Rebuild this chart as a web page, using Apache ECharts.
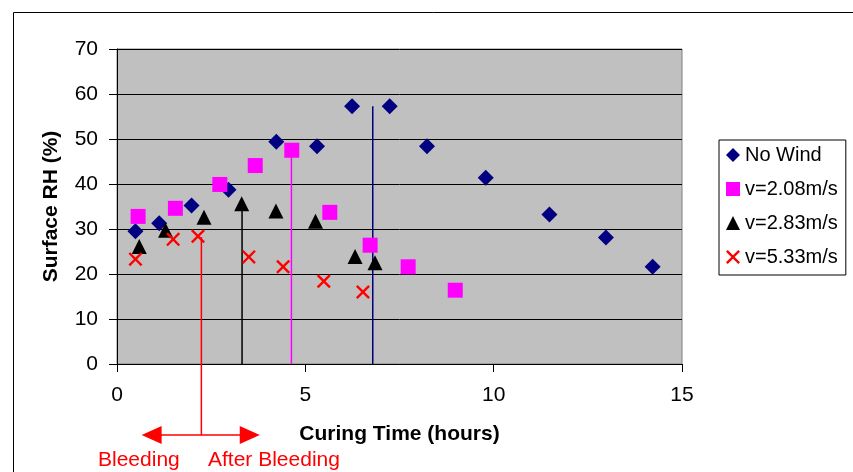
<!DOCTYPE html>
<html>
<head>
<meta charset="utf-8">
<script src="https://cdn.jsdelivr.net/npm/echarts@6/dist/echarts.min.js"></script>
<style>html,body{margin:0;padding:0;background:#fff;}#c{width:853px;height:472px;}</style>
</head>
<body>
<div id="c"></div>
<script>
// ---- data ----
var seriesNames = ['No Wind', 'v=2.08m/s', 'v=2.83m/s', 'v=5.33m/s'];
var noWindX = [0.49, 1.12, 1.98, 2.96, 4.23, 5.31, 6.24, 7.24, 8.23, 9.79, 11.48, 12.98, 14.22];
var noWindY = [29.5, 31.3, 35.2, 38.7, 49.4, 48.4, 57.3, 57.3, 48.4, 41.4, 33.2, 28.1, 21.6];
var v208X = [0.56, 1.55, 2.73, 3.67, 4.64, 5.65, 6.72, 7.73, 8.98];
var v208Y = [32.8, 34.6, 39.9, 44.1, 47.5, 33.7, 26.4, 21.6, 16.4];
var v283X = [0.59, 1.29, 2.31, 3.31, 4.22, 5.27, 6.32, 6.85];
var v283Y = [26.1, 29.7, 32.6, 35.6, 34.0, 31.7, 23.9, 22.5];
var v533X = [0.49, 1.49, 2.15, 3.50, 4.41, 5.49, 6.53];
var v533Y = [23.3, 27.7, 28.4, 23.8, 21.6, 18.4, 16.0];
// end-of-bleeding marker lines: [x, yTop, yBottom]
var redLine = [2.24, 28.2, -15.8];
var blackLine = [3.32, 36.0, 0];
var magentaLine = [4.63, 47.5, 0];
var navyLine = [6.79, 57.3, 0];
// arrow under the axis: [xLeftHead, xRightHead, y]
var arrow = [0.92, 3.525, -15.8];
var annotationTexts = ['Bleeding', 'After Bleeding'];
var xTicks = [0, 5, 10, 15];
var yTicks = [0, 10, 20, 30, 40, 50, 60, 70];

function zip(xs, ys) { return xs.map(function (x, i) { return [x, ys[i]]; }); }
function vline(a) { return [[a[0], a[1]], [a[0], a[2]]]; }

var FONT = 'Liberation Sans, Arial, sans-serif';
var crossPath = 'path://M0,1.2L1.2,0L5,3.8L8.8,0L10,1.2L6.2,5L10,8.8L8.8,10L5,6.2L1.2,10L0,8.8L3.8,5Z';

var chart = echarts.init(document.getElementById('c'), null, { renderer: 'canvas' });

function lineSeries(data, color, clip) {
  return {
    type: 'line', data: data, symbol: 'none', silent: true, clip: clip,
    lineStyle: { color: color, width: 1.5 }, z: 1, animation: false
  };
}

var option = {
  animation: false,
  backgroundColor: '#ffffff',
  grid: {
    left: 117, right: 171, top: 49, bottom: 108,
    show: true, backgroundColor: '#C0C0C0', borderColor: '#808080', borderWidth: 1
  },
  xAxis: {
    type: 'value', min: 0, max: 15, interval: 5,
    name: 'Curing Time (hours)', nameLocation: 'middle', nameGap: 60,
    nameTextStyle: { fontFamily: FONT, fontSize: 21, fontWeight: 'bold', color: '#000' },
    axisLine: { show: true, onZero: false, lineStyle: { color: '#000', width: 1 } },
    axisTick: { show: true, inside: false, length: 8, lineStyle: { color: '#000' } },
    axisLabel: { fontFamily: FONT, fontSize: 21, color: '#000', margin: 21,
      formatter: function (v) { return xTicks.indexOf(v) >= 0 ? String(v) : ''; } },
    splitLine: { show: false }
  },
  yAxis: {
    type: 'value', min: 0, max: 70, interval: 10,
    name: 'Surface RH (%)', nameLocation: 'middle', nameGap: 55,
    nameTextStyle: { fontFamily: FONT, fontSize: 21, fontWeight: 'bold', color: '#000' },
    axisLine: { show: true, lineStyle: { color: '#000', width: 1 } },
    axisTick: { show: true, inside: false, length: 8, lineStyle: { color: '#000' } },
    axisLabel: { fontFamily: FONT, fontSize: 21, color: '#000', margin: 19,
      formatter: function (v) { return yTicks.indexOf(v) >= 0 ? String(v) : ''; } },
    splitLine: { show: true, lineStyle: { color: '#000', width: 1 } }
  },
  legend: {
    data: seriesNames,
    orient: 'vertical', left: 719, top: 140,
    padding: [5, 8, 8, 7],
    itemWidth: 14, itemHeight: 14, itemGap: 14,
    borderColor: '#000', borderWidth: 1, backgroundColor: '#fff',
    textStyle: { fontFamily: FONT, fontSize: 20, color: '#000' }
  },
  series: [
    lineSeries(vline(redLine), '#FF0000', false),
    lineSeries(vline(blackLine), '#000000', true),
    lineSeries(vline(magentaLine), '#FF00FF', true),
    lineSeries(vline(navyLine), '#000080', true),
    {
      type: 'line', silent: true, clip: false, z: 1,
      data: [[arrow[0], arrow[2]], [arrow[1], arrow[2]]],
      lineStyle: { color: '#FF0000', width: 1.5 },
      itemStyle: { color: '#FF0000' },
      symbol: 'triangle', symbolSize: [18, 20],
      symbolRotate: function (v, p) { return p.dataIndex === 0 ? 90 : -90; }
    },
    { name: seriesNames[0], type: 'scatter', data: zip(noWindX, noWindY), z: 3,
      symbol: 'diamond', symbolSize: 16, itemStyle: { color: '#000080', opacity: 1 } },
    { name: seriesNames[1], type: 'scatter', data: zip(v208X, v208Y), z: 3,
      symbol: 'rect', symbolSize: 15, itemStyle: { color: '#FF00FF', opacity: 1 } },
    { name: seriesNames[2], type: 'scatter', data: zip(v283X, v283Y), z: 3,
      symbol: 'triangle', symbolSize: [15, 15], itemStyle: { color: '#000000', opacity: 1 } },
    { name: seriesNames[3], type: 'scatter', data: zip(v533X, v533Y), z: 3,
      symbol: crossPath, symbolSize: 14, itemStyle: { color: '#FF0000', opacity: 1 } }
  ],
  graphic: [
    { type: 'rect', left: 11, top: 10, shape: { width: 900, height: 500 }, silent: true, z: -10,
      style: { fill: null, stroke: '#000', lineWidth: 1 } },
    { type: 'text', x: 98, y: 460, silent: true,
      style: { text: annotationTexts[0], fill: '#FF0000', font: '21px ' + FONT, verticalAlign: 'middle' } },
    { type: 'text', x: 208, y: 460, silent: true,
      style: { text: annotationTexts[1], fill: '#FF0000', font: '21px ' + FONT, verticalAlign: 'middle' } }
  ]
};
chart.setOption(option);
</script>
</body>
</html>
